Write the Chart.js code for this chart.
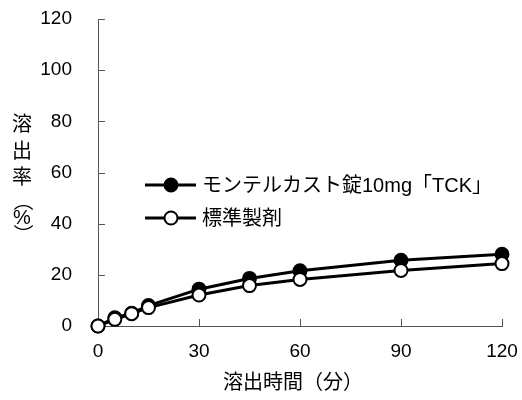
<!DOCTYPE html>
<html>
<head>
<meta charset="utf-8">
<script src="https://cdn.jsdelivr.net/npm/chart.js@4"></script>
<style>
  html, body { margin: 0; padding: 0; background: #fff; }
  #wrap { width: 522px; height: 400px; }
</style>
</head>
<body>
<div id="wrap"><canvas id="dissolutionChart"></canvas></div>
<script>
const minutes = [0, 5, 10, 15, 30, 45, 60, 90, 120];
const tckValues = [0, 3.2, 5.0, 8.0, 14.4, 18.6, 21.6, 25.7, 28.0];
const standardValues = [0, 2.6, 4.8, 7.2, 12.1, 15.8, 18.2, 21.7, 24.4];
const seriesNames = ['モンテルカスト錠10mg「TCK」', '標準製剤'];
const xTicks = [0, 30, 60, 90, 120];
const yTicks = [0, 20, 40, 60, 80, 100, 120];
const xTitle = '溶出時間（分）';
const yTitleChars = ['溶', '出', '率', '（', '%', '）'];

const FONT = '"Liberation Sans", "Noto Sans CJK JP", sans-serif';

function toPoints(values) {
    return minutes.map((m, i) => ({ x: m, y: values[i] }));
}

// inward tick marks, axis titles and the legend inside the plot
const decorations = {
    id: 'decorations',
    afterDraw(chart) {
        const ctx = chart.ctx;
        const xs = chart.scales.x;
        const ys = chart.scales.y;
        const area = chart.chartArea;
        ctx.save();
        ctx.strokeStyle = '#555';
        ctx.lineWidth = 1;
        ctx.beginPath();
        xTicks.forEach(v => {
            if (v === 0) return;
            const px = Math.round(xs.getPixelForValue(v)) + 0.5;
            ctx.moveTo(px, area.bottom);
            ctx.lineTo(px, area.bottom - 7);
        });
        yTicks.forEach(v => {
            if (v === 0) return;
            const py = Math.round(ys.getPixelForValue(v)) + 0.5;
            ctx.moveTo(area.left, py);
            ctx.lineTo(area.left + 7, py);
        });
        ctx.stroke();

        ctx.fillStyle = '#000';
        ctx.font = '20px ' + FONT;
        ctx.textAlign = 'center';
        ctx.textBaseline = 'middle';
        ctx.fillText(xTitle, 293, 383);

        // vertical title: brackets are turned a quarter so they sit like vertical text
        const yPos = [125, 152, 178, 201, 218, 234];
        yTitleChars.forEach((c, i) => {
            if (c === '（' || c === '）') {
                ctx.save();
                ctx.translate(22, yPos[i]);
                ctx.rotate(Math.PI / 2);
                ctx.fillText(c, 0, 0);
                ctx.restore();
            } else {
                ctx.fillText(c, 22, yPos[i]);
            }
        });

        // legend
        const rows = [185, 218];
        chart.data.datasets.forEach((ds, i) => {
            const y = rows[i];
            ctx.strokeStyle = '#000';
            ctx.lineWidth = 3;
            ctx.beginPath();
            ctx.moveTo(145, y);
            ctx.lineTo(196, y);
            ctx.stroke();
            ctx.beginPath();
            ctx.arc(171, y, 6.5, 0, Math.PI * 2);
            ctx.fillStyle = ds.pointBackgroundColor;
            ctx.fill();
            ctx.lineWidth = 2;
            ctx.stroke();
            ctx.fillStyle = '#000';
            ctx.font = '20px ' + FONT;
            ctx.textAlign = 'left';
            ctx.fillText(seriesNames[i], 202, y + 1);
        });
        ctx.restore();
    }
};

new Chart(document.getElementById('dissolutionChart'), {
    type: 'line',
    data: {
        datasets: [{
            label: seriesNames[0],
            data: toPoints(tckValues),
            borderColor: '#000',
            borderWidth: 3,
            pointBackgroundColor: '#000',
            pointBorderColor: '#000',
            pointBorderWidth: 2,
            pointRadius: 6.5,
            clip: false,
            order: 1
        }, {
            label: seriesNames[1],
            data: toPoints(standardValues),
            borderColor: '#000',
            borderWidth: 3,
            pointBackgroundColor: '#fff',
            pointBorderColor: '#000',
            pointBorderWidth: 2,
            pointRadius: 6.5,
            clip: false,
            order: 0
        }]
    },
    options: {
        responsive: true,
        maintainAspectRatio: false,
        animation: false,
        layout: { padding: { top: 19, right: 20, left: 0, bottom: 0 } },
        plugins: {
            legend: { display: false },
            tooltip: { enabled: false }
        },
        scales: {
            x: {
                type: 'linear',
                min: 0,
                max: 120,
                afterBuildTicks: s => { s.ticks = xTicks.map(v => ({ value: v })); },
                afterFit: s => { s.height = 74; s.paddingLeft = 0; s.paddingRight = 0; },
                grid: { drawOnChartArea: false, drawTicks: false },
                border: { color: '#555', width: 1 },
                ticks: { color: '#000', padding: 14, maxRotation: 0, font: { family: FONT, size: 19 } }
            },
            y: {
                min: 0,
                max: 120,
                afterBuildTicks: s => { s.ticks = yTicks.map(v => ({ value: v })); },
                afterFit: s => { s.width = 98; s.paddingTop = 0; s.paddingBottom = 0; },
                grid: { drawOnChartArea: false, drawTicks: false },
                border: { color: '#555', width: 1 },
                ticks: { color: '#000', padding: 26, font: { family: FONT, size: 19 } }
            }
        }
    },
    plugins: [decorations]
});
</script>
</body>
</html>
